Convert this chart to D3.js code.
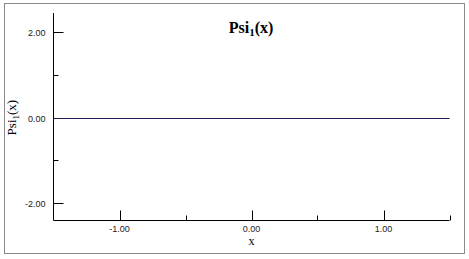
<!DOCTYPE html>
<html>
<head>
<meta charset="utf-8">
<script src="https://cdn.jsdelivr.net/npm/d3@7"></script>
<style>
  body { margin: 0; background: #fff; }
  .tick-label { font-family: Arial, "Liberation Sans", sans-serif; font-size: 9px; fill: #222; }
  .serif { font-family: "Liberation Serif", "Times New Roman", serif; fill: #000; }
</style>
</head>
<body>
<svg width="469" height="259"></svg>
<script>
  // series: Psi_1(x) sampled across the plotted range
  const xValues = [-1.5, -1.0, -0.5, 0.0, 0.5, 1.0, 1.5];
  const psiValues = [0, 0, 0, 0, 0, 0, 0];

  const xMajorTicks = [-1, 0, 1];
  const xMinorTicks = [-0.5, 0.5, 1.5];
  const yMajorTicks = [-2, 0, 2];
  const yMinorTicks = [-1, 1];

  const svg = d3.select('svg');

  // outer frame
  svg.append('rect')
    .attr('x', 4.5).attr('y', 3.5)
    .attr('width', 460).attr('height', 250)
    .attr('fill', 'none')
    .attr('stroke', '#8a8a8a')
    .attr('stroke-width', 1);

  const xScale = d3.scaleLinear().domain([-1.5, 1.5]).range([53.5, 449.5]);
  const yScale = d3.scaleLinear().domain([-2.4, 2.44]).range([220.5, 13]);

  // plain hyphen for negatives, like the original
  const fmt = d => d.toFixed(2);

  // axis lines
  svg.append('line')
    .attr('x1', xScale(-1.5)).attr('x2', xScale(-1.5))
    .attr('y1', yScale.range()[1]).attr('y2', yScale.range()[0])
    .attr('stroke', '#000');
  svg.append('line')
    .attr('x1', xScale(-1.5)).attr('x2', xScale(1.5))
    .attr('y1', yScale(-2.4)).attr('y2', yScale(-2.4))
    .attr('stroke', '#000');

  // x ticks (drawn inward)
  const xAxisY = yScale(-2.4);
  svg.selectAll('.xmaj').data(xMajorTicks).enter().append('line')
    .attr('x1', d => Math.round(xScale(d)) + 0.5).attr('x2', d => Math.round(xScale(d)) + 0.5)
    .attr('y1', xAxisY).attr('y2', xAxisY - 10)
    .attr('stroke', '#000');
  svg.selectAll('.xmin').data(xMinorTicks).enter().append('line')
    .attr('x1', d => Math.round(xScale(d)) + 0.5).attr('x2', d => Math.round(xScale(d)) + 0.5)
    .attr('y1', xAxisY).attr('y2', xAxisY - 5)
    .attr('stroke', '#000');
  svg.selectAll('.xlab').data(xMajorTicks).enter().append('text')
    .attr('class', 'tick-label')
    .attr('x', d => xScale(d))
    .attr('y', xAxisY + 11)
    .attr('text-anchor', 'middle')
    .text(d => fmt(d));

  // y ticks (drawn inward)
  const yAxisX = xScale(-1.5);
  svg.selectAll('.ymaj').data(yMajorTicks).enter().append('line')
    .attr('x1', yAxisX).attr('x2', yAxisX + 10)
    .attr('y1', d => Math.round(yScale(d)) + 0.5).attr('y2', d => Math.round(yScale(d)) + 0.5)
    .attr('stroke', '#000');
  svg.selectAll('.ymin').data(yMinorTicks).enter().append('line')
    .attr('x1', yAxisX).attr('x2', yAxisX + 5)
    .attr('y1', d => Math.round(yScale(d)) + 0.5).attr('y2', d => Math.round(yScale(d)) + 0.5)
    .attr('stroke', '#000');
  svg.selectAll('.ylab').data(yMajorTicks).enter().append('text')
    .attr('class', 'tick-label')
    .attr('x', yAxisX - 8)
    .attr('y', d => yScale(d) + 4)
    .attr('text-anchor', 'end')
    .text(d => fmt(d));

  // data line
  const line = d3.line()
    .x((d, i) => xScale(xValues[i]))
    .y(d => Math.round(yScale(d)) + 0.5);
  svg.append('path')
    .attr('d', line(psiValues))
    .attr('fill', 'none')
    .attr('stroke', '#1c1c50')
    .attr('stroke-width', 1.2);

  // title
  const title = svg.append('text')
    .attr('class', 'serif')
    .attr('x', 251).attr('y', 33)
    .attr('text-anchor', 'middle')
    .attr('font-size', 16)
    .attr('font-weight', 'bold');
  title.append('tspan').text('Psi');
  title.append('tspan').attr('font-size', 11).attr('dy', 3).text('1');
  title.append('tspan').attr('dy', -3).text('(x)');

  // x label
  svg.append('text')
    .attr('class', 'serif')
    .attr('x', xScale(0)).attr('y', 245)
    .attr('text-anchor', 'middle')
    .attr('font-size', 12)
    .text('x');

  // y label
  const ylab = svg.append('text')
    .attr('class', 'serif')
    .attr('transform', `translate(16,${yScale(0)}) rotate(-90)`)
    .attr('text-anchor', 'middle')
    .attr('font-size', 13);
  ylab.append('tspan').text('Psi');
  ylab.append('tspan').attr('font-size', 9).attr('dy', 3).text('1');
  ylab.append('tspan').attr('dy', -3).text('(x)');
</script>
</body>
</html>
